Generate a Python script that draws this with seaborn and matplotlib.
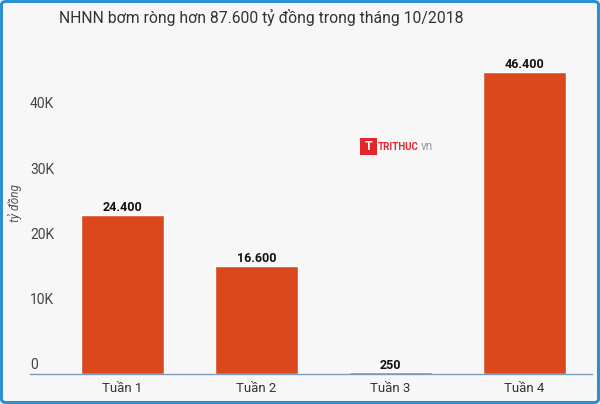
import matplotlib
matplotlib.use("Agg")
import matplotlib.pyplot as plt
import seaborn as sns
import pandas as pd
from matplotlib.patches import FancyBboxPatch, Rectangle

categories = ["Tuần 1", "Tuần 2", "Tuần 3", "Tuần 4"]
values = [24400, 16600, 250, 46400]
value_labels = ["24.400", "16.600", "250", "46.400"]
yticks = [0, 10000, 20000, 30000, 40000]
ytick_labels = ["0", "10K", "20K", "30K", "40K"]
title = "NHNN bơm ròng hơn 87.600 tỷ đồng trong tháng 10/2018"
ylabel = "tỷ đồng"

sns.set_theme(style="white")
plt.rcParams["font.family"] = ["Roboto", "DejaVu Sans"]

W, H = 600, 404
fig = plt.figure(figsize=(W / 100, H / 100), dpi=100)
fig.patch.set_facecolor("#f7f7f7")

ax_left, ax_right = 30, 592
ax_bottom, ax_top = 374, 49
ax = fig.add_axes([ax_left / W, 1 - ax_bottom / H, (ax_right - ax_left) / W, (ax_bottom - ax_top) / H])
ax.set_facecolor("#f7f7f7")

df = pd.DataFrame({"cat": categories, "val": values})
sns.barplot(data=df, x="cat", y="val", color="#dc481d", saturation=1, width=0.62, ax=ax)

step = 134.0
ax.set_xlim(-0.5 - (122.5 - 30) / step + 0.5, 3.5 + (592 - 591.5) / step)
ax.set_ylim(0, 49900)

for i, (v, lab) in enumerate(zip(values, value_labels)):
    ax.annotate(lab, xy=(i, v), xytext=(0, 0.5), textcoords="offset points",
                ha="center", va="bottom", fontsize=9, fontweight="bold", color="#111111")

ax.set_yticks(yticks)
ax.set_yticklabels([])
ax.tick_params(axis="y", length=0)
for t, l in zip(yticks, ytick_labels):
    ax.annotate(l, xy=(0, t), xycoords=("axes fraction", "data"), xytext=(0, 1.5),
                textcoords="offset points", ha="left", va="bottom", fontsize=10, color="#444444")

ax.set_xlabel("")
ax.set_ylabel("")
ax.tick_params(axis="x", length=0, pad=6, labelsize=9.5)
for lbl in ax.get_xticklabels():
    lbl.set_color("#333333")

for s in ["top", "right", "left"]:
    ax.spines[s].set_visible(False)
ax.spines["bottom"].set_color("#7a9cc0")
ax.spines["bottom"].set_linewidth(1.0)

fig.text(261 / W, 1 - 17 / H, title, ha="center", va="center", fontsize=11.3, color="#333333")
fig.text(15 / W, 1 - 203 / H, ylabel, ha="center", va="center", rotation=90,
         fontsize=8.5, style="italic", color="#555555")

# watermark logo
fig.patches.append(Rectangle((360 / W, 1 - 155 / H), 17 / W, 17 / H, transform=fig.transFigure,
                             facecolor="#e3262b", edgecolor="none"))
fig.text(368.5 / W, 1 - 146.5 / H, "T", ha="center", va="center", fontsize=9, fontweight="bold", color="white")
fig.text(378 / W, 1 - 146.5 / H, "TRITHUC", ha="left", va="center", fontsize=7,
         fontweight="bold", color="#e3262b")
fig.text(421 / W, 1 - 147 / H, "vn", ha="left", va="center", fontsize=8.5, color="#9a9a9a")

fig.patches.append(FancyBboxPatch((1.5 / W, 1.5 / H), (W - 3) / W, (H - 3) / H,
                                  boxstyle="round,pad=0,rounding_size=0.008",
                                  transform=fig.transFigure, facecolor="none",
                                  edgecolor="#2b8fd0", linewidth=2.2))

fig.savefig("out.png", dpi=100, facecolor=fig.get_facecolor())
